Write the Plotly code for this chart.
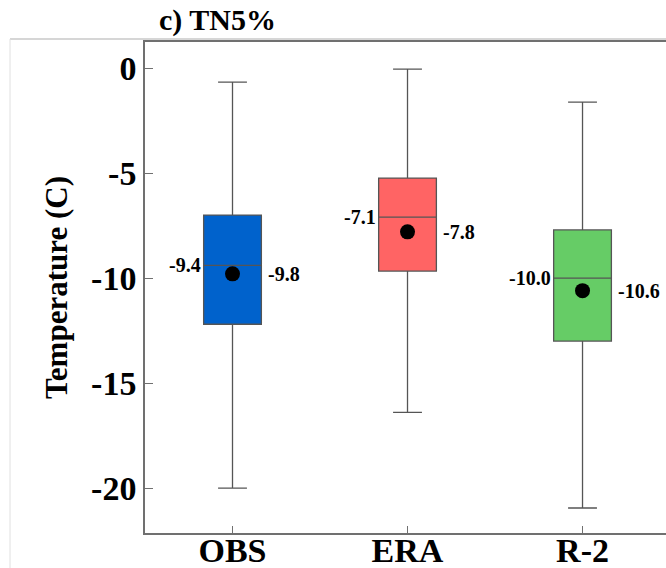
import plotly.graph_objects as go

categories = ["OBS", "ERA", "R-2"]
q1_vals = [-12.2, -9.67, -13.0]
median_vals = [-9.4, -7.1, -10.0]
q3_vals = [-7.0, -5.24, -7.71]
lower_vals = [-20.0, -16.4, -20.95]
upper_vals = [-0.67, -0.05, -1.62]
mean_vals = [-9.8, -7.8, -10.6]
median_labels = ["-9.4", "-7.1", "-10.0"]
mean_labels = ["-9.8", "-7.8", "-10.6"]
fill_colors = ["#0062CC", "#FF6464", "#66CC66"]

FONT = "Liberation Serif, Times New Roman, serif"

fig = go.Figure()
for i, c in enumerate(categories):
    fig.add_trace(go.Box(
        x=[c], q1=[q1_vals[i]], median=[median_vals[i]], q3=[q3_vals[i]],
        lowerfence=[lower_vals[i]], upperfence=[upper_vals[i]],
        fillcolor=fill_colors[i], line=dict(color="#555555", width=1.3),
        width=0.33, boxpoints=False, showlegend=False, hoverinfo="skip"))

fig.add_trace(go.Scatter(
    x=categories, y=mean_vals, mode="markers",
    marker=dict(color="black", size=15, symbol="circle"),
    showlegend=False, hoverinfo="skip"))

for i, c in enumerate(categories):
    fig.add_annotation(x=c, y=median_vals[i], text="<b>%s</b>" % median_labels[i],
                       showarrow=False, xanchor="right", yanchor="middle",
                       xshift=-30, font=dict(family=FONT, size=20, color="black"))
    fig.add_annotation(x=c, y=mean_vals[i], text="<b>%s</b>" % mean_labels[i],
                       showarrow=False, xanchor="left", yanchor="middle",
                       xshift=33, font=dict(family=FONT, size=20, color="black"))

W, H = 666, 568
L, R, T, B = 145, 0, 42, 35
pw, ph = W - L - R, H - T - B

def px(x):
    return (x - L) / pw

def py(y):
    return (H - B - y) / ph

# light outer panel frame
fig.add_shape(type="line", xref="paper", yref="paper",
              x0=px(10), x1=px(666), y0=py(39), y1=py(39),
              line=dict(color="#C8C8C8", width=1.5))
fig.add_shape(type="line", xref="paper", yref="paper",
              x0=px(10), x1=px(10), y0=py(39), y1=py(568),
              line=dict(color="#E0E0E0", width=1))

fig.add_annotation(xref="paper", yref="paper", x=px(157), y=py(20),
                   text="<b>c) TN5%</b>", showarrow=False,
                   xanchor="left", yanchor="middle",
                   font=dict(family=FONT, size=30, color="black"))

fig.update_layout(
    width=W, height=H,
    margin=dict(l=L, r=R, t=T, b=B, pad=0, autoexpand=False),
    paper_bgcolor="white", plot_bgcolor="white",
    boxmode="overlay",
    xaxis=dict(type="category", categoryorder="array", categoryarray=categories,
               range=[-0.5, 2.477], showline=True, mirror=True, automargin=False,
               linecolor="#707070", linewidth=1.5, showgrid=False, zeroline=False,
               ticks="inside", ticklen=7, tickcolor="#707070",
               ticklabelstandoff=-14,
               tickfont=dict(family=FONT, size=34, color="black"),
               tickprefix="<b>", ticksuffix="</b>"),
    yaxis=dict(range=[-22.14, 1.24], tickvals=[0, -5, -10, -15, -20],
               ticktext=["<b>0</b>", "<b>-5</b>", "<b>-10</b>", "<b>-15</b>", "<b>-20</b>"],
               showline=True, mirror=False, linecolor="#707070", linewidth=1.5,
               showgrid=False, zeroline=False, ticks="inside", ticklen=8,
               tickcolor="#707070", automargin=False,
               tickfont=dict(family=FONT, size=34, color="black"),
               title=dict(text="<b>Temperature (C)</b>", standoff=14,
                          font=dict(family=FONT, size=31, color="black"))),
)

fig.write_html("out.html", config={"displayModeBar": False},
               post_script="document.body.style.margin='0';document.body.style.overflow='hidden';")
